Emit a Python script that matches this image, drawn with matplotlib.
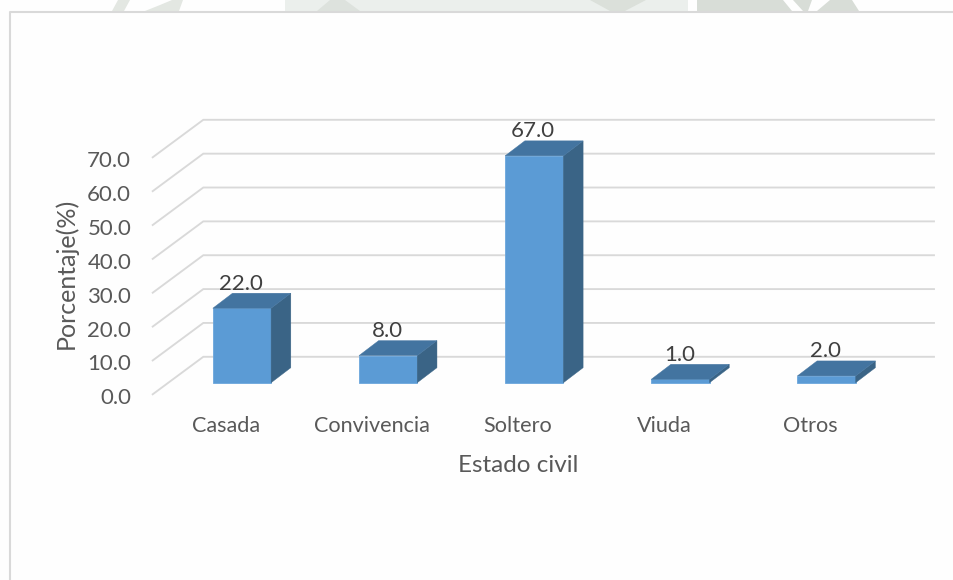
import matplotlib
matplotlib.use("Agg")
import matplotlib.pyplot as plt
from matplotlib.patches import Polygon
from matplotlib.transforms import ScaledTranslation

plt.rcParams['font.family'] = ['Lato', 'DejaVu Sans']

categories = ["Casada", "Convivencia", "Soltero", "Viuda", "Otros"]
values = [22.0, 8.0, 67.0, 1.0, 2.0]
y_ticks = [0, 10, 20, 30, 40, 50, 60, 70]
y_tick_labels = ["0.0", "10.0", "20.0", "30.0", "40.0", "50.0", "60.0", "70.0"]

W, H = 954, 580
DPI = 100
fig = plt.figure(figsize=(W / DPI, H / DPI), dpi=DPI, facecolor="#fefefe")

# Faint page watermark showing above the chart frame (pixel outlines, colour)
watermark = [
    ([(118, 0), (130, 0), (124, 11), (112, 11)], "#e3e7e2"),
    ([(172, 0), (183, 0), (179, 11), (145, 11), (160, 5)], "#e3e7e2"),
    ([(285, 0), (688, 0), (688, 11), (285, 11)], "#ebefec"),
    ([(330, 0), (345, 0), (360, 11), (317, 11)], "#dde2dd"),
    ([(590, 0), (646, 0), (625, 11), (610, 11)], "#dbe0da"),
    ([(697, 0), (783, 0), (792, 11), (697, 11)], "#d8ddd7"),
    ([(793, 0), (812, 0), (808, 11), (803, 11)], "#d8ddd7"),
    ([(830, 0), (852, 0), (859, 11), (817, 11)], "#d8ddd7"),
]
for pts, col in watermark:
    fig.add_artist(Polygon([(x / W, 1 - y / H) for x, y in pts], closed=True,
                           transform=fig.transFigure, fc=col, ec="none"))

# Front plane of the pseudo-3D axes, in pixels
L, R, B, T = 152.7, 883.4, 394.3, 157.3
ax = fig.add_axes([L / W, 1 - B / H, (R - L) / W, (B - T) / H])
ax.set_xlim(-0.5, 4.5)
ax.set_ylim(0, 70)
ax.patch.set_visible(False)
for s in ax.spines.values():
    s.set_visible(False)

px_x = (R - L) / 5
px_y = (B - T) / 70

def dx(p):
    return p / px_x

def dy(p):
    return p / px_y

GRID = "#d9d9d9"
wall_dx, wall_dy = dx(50.6), dy(37.5)
for v in y_ticks:
    ax.plot([-0.5, -0.5 + wall_dx, 4.5 + wall_dx], [v, v + wall_dy, v + wall_dy],
            color=GRID, lw=1.35, clip_on=False, zorder=1, solid_joinstyle="miter")

FRONT, TOP, SIDE = "#5b9bd5", "#4374a0", "#3a6486"
base_dx, base_dy = dx(16.2), dy(11.6)
bar_w = dx(58.3)
d_x, d_y = dx(19.7), dy(15)
for i, v in enumerate(values):
    x0 = i + base_dx - bar_w / 2
    x1 = x0 + bar_w
    y0 = base_dy
    y1 = base_dy + v
    ax.bar(i + base_dx, v, width=bar_w, bottom=y0, color=FRONT, edgecolor="#6ba6dc",
           linewidth=0.6, clip_on=False, zorder=3)
    ax.add_patch(Polygon([(x1, y0), (x1 + d_x, y0 + d_y), (x1 + d_x, y1 + d_y), (x1, y1)],
                         closed=True, fc=SIDE, ec=SIDE, lw=0.3, clip_on=False, zorder=3))
    ax.add_patch(Polygon([(x0, y1), (x1, y1), (x1 + d_x, y1 + d_y), (x0 + d_x, y1 + d_y)],
                         closed=True, fc=TOP, ec=TOP, lw=0.3, clip_on=False, zorder=3))
    ax.annotate(f"{v:.1f}", (i + base_dx - dx(1), y1), xytext=(0, 24.5 * 72 / DPI),
                textcoords="offset points", ha="center", va="center",
                fontsize=16, color="#404040", zorder=4, annotation_clip=False)

ax.set_yticks(y_ticks, y_tick_labels)
ax.set_xticks(range(len(categories)), categories)
ax.tick_params(axis="y", length=0, pad=15.5, labelsize=16, labelcolor="#595959")
ax.tick_params(axis="x", length=0, pad=15.5, labelsize=15.6, labelcolor="#595959")
shift = ScaledTranslation(0, -2 / DPI, fig.dpi_scale_trans)
for lab in ax.get_yticklabels():
    lab.set_transform(lab.get_transform() + shift)
ax.set_ylabel("Porcentaje(%)", fontsize=18, color="#595959", va="center")
ax.yaxis.set_label_coords((66 - L) / (R - L), (B - 273) / (B - T))
ax.set_xlabel("Estado civil", fontsize=17.5, color="#595959", va="center")
ax.xaxis.set_label_coords((518 - L) / (R - L), (B - 466) / (B - T))

# Chart frame (left and top edges only are within the picture)
fig.add_artist(plt.Line2D([10.5 / W, 10.5 / W, 1], [0, 1 - 12 / H, 1 - 12 / H],
                          transform=fig.transFigure, color=GRID, lw=1.5))

fig.savefig("out.png", dpi=DPI, facecolor=fig.get_facecolor())
